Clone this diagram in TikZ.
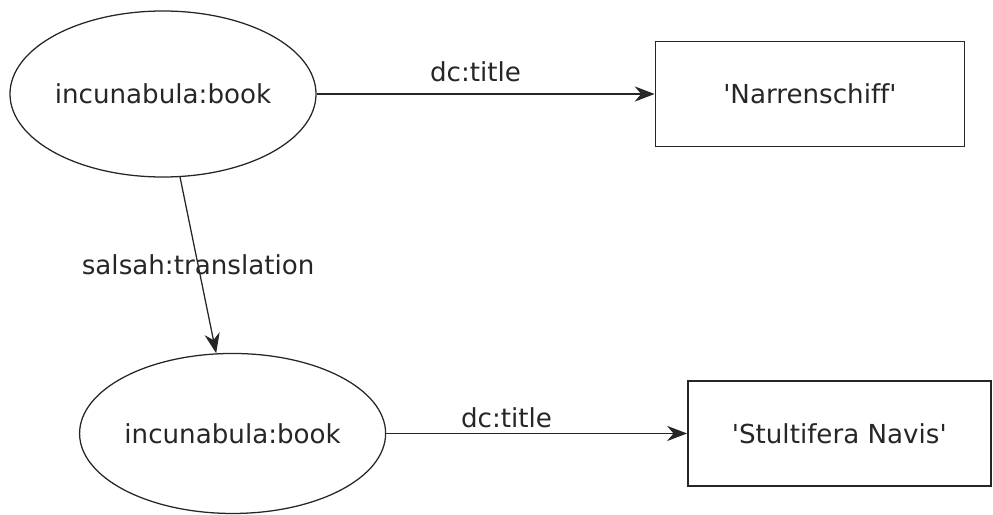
\documentclass[tikz,border=0pt]{standalone}
\usepackage{fontspec}
\setmainfont{DejaVu Sans}[Ligatures={NoCommon}]
\usepackage{tikz}
\usetikzlibrary{positioning, shapes, arrows.meta}
\definecolor{inkgray}{rgb}{0.15,0.15,0.15}
\tikzstyle{res}=[%
      ellipse, draw=inkgray, line width=0.9pt, fill=none, text=inkgray,
      minimum width=7.45cm, minimum height=4.15cm, inner sep=0pt,
      font=\fontsize{18.6}{22}\selectfont
]
\tikzstyle{lit}=[%
      rectangle, draw=inkgray, line width=1.1pt, fill=none, text=inkgray,
      minimum width=7.725cm, minimum height=2.625cm, inner sep=0pt,
      font=\fontsize{18.6}{22}\selectfont
]
\tikzstyle{prop}=[%
      text=inkgray, font=\fontsize{18.6}{22}\selectfont
]

\begin{document}
\begin{tikzpicture}[auto,
    draw=inkgray, line width=0.9pt,
    -{Stealth[length=5mm,width=3.8mm]}
  ]
    \useasboundingbox (0,0) rectangle (24.825,-12.875);
    \node[res]  (book1)  at (4.075,-2.35)                    {incunabula:book};
    \node[lit]  (title1) [right = 8.45cm of book1]           {\textquotesingle Narrenschiff\textquotesingle};
    \node[res, minimum height=4.0cm] (book2) [below = 4.38cm of book1, xshift=1.74cm] {incunabula:book};
    \node[lit, minimum width=7.575cm] (title2) [right = 7.52cm of book2] {\textquotesingle Stultifera Navis\textquotesingle};

    \path (book1) edge node[prop, pos=0.47, yshift=1.6mm] {dc:title} (title1)
          (book1) edge node[prop, auto=false, pos=0.5] {salsah:translation} (book2)
          (book2) edge node[prop, pos=0.40] {dc:title} (title2)
    ;

  \end{tikzpicture}
\end{document}
